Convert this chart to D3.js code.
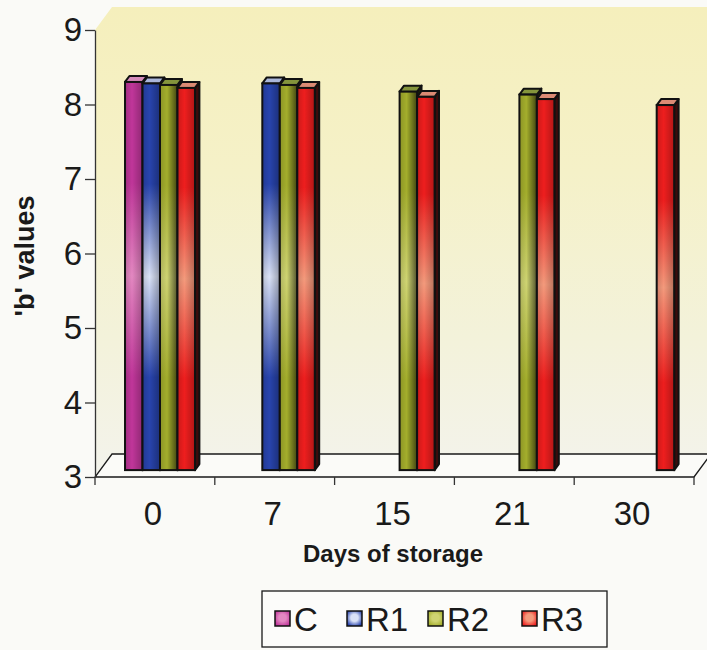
<!DOCTYPE html>
<html>
<head>
<meta charset="utf-8">
<script src="https://cdn.jsdelivr.net/npm/d3@7"></script>
<style>
  html, body { margin: 0; padding: 0; background: #fafaf7; }
  svg { display: block; }
  text { font-family: "Liberation Sans", Arial, sans-serif; fill: #1a1a1a; }
</style>
</head>
<body>
<svg id="chart" width="707" height="650"></svg>
<script>
// Days of storage on the category axis
const categories = ["0", "7", "15", "21", "30"];
const seriesNames = ["C", "R1", "R2", "R3"];

// 'b' values per treatment (null = not measured on that day)
const valuesC  = [8.21, null, null, null, null];
const valuesR1 = [8.19, 8.19, null, null, null];
const valuesR2 = [8.17, 8.17, 8.08, 8.04, null];
const valuesR3 = [8.13, 8.13, 8.01, 7.98, 7.90];

const yTicks = [3, 4, 5, 6, 7, 8, 9];

const seriesValues = [valuesC, valuesR1, valuesR2, valuesR3];

// colour sets: base, highlight, top face, side face, right-edge shading strength
const palette = {
  C:  { base: "#c0369a", light: "#e488c2", top: "#d68cbb", side: "#2e0c24", shade: 0.25 },
  R1: { base: "#2844ae", light: "#dae2f6", top: "#aab6da", side: "#0e1638", shade: 0.3 },
  R2: { base: "#a4ae2c", light: "#cfd472", top: "#84943c", side: "#1c2406", shade: 0.6 },
  R3: { base: "#ee1e1e", light: "#f49a7c", top: "#dc8a74", side: "#3a0c0c", shade: 0.25 }
};

const svg = d3.select("#chart");
const defs = svg.append("defs");

// 3D projection of the floor depth
const DEPTH_X = 17, DEPTH_Y = 23;
const BAR_FRONT = 0.30, BAR_BACK = 0.56;

const x = d3.scaleBand().domain(categories).range([95, 694]).padding(0);
const xSub = d3.scaleBand().domain(seriesNames)
  .range([x.bandwidth() * 0.208, x.bandwidth() * 0.792]).padding(0);
const y = d3.scaleLinear().domain([3, 9]).range([477, 30]);

// wall gradient
const wallGrad = defs.append("linearGradient").attr("id", "wallGrad")
  .attr("gradientUnits", "userSpaceOnUse")
  .attr("x1", 0).attr("y1", 7).attr("x2", 0).attr("y2", 477);
[[0, "#f5efbc"], [0.35, "#f5f1c8"], [0.7, "#f3f2da"], [1, "#f3f3ec"]]
  .forEach(([o, c]) => wallGrad.append("stop").attr("offset", o).attr("stop-color", c));

// per-series gradients
seriesNames.forEach(s => {
  const p = palette[s];
  const v = defs.append("linearGradient").attr("id", "v-" + s)
    .attr("x1", 0).attr("y1", 0).attr("x2", 0).attr("y2", 1);
  [[0, p.base], [0.26, p.base], [0.5, p.light], [0.76, p.base], [1, p.base]]
    .forEach(([o, c]) => v.append("stop").attr("offset", o).attr("stop-color", c));
  const h = defs.append("linearGradient").attr("id", "h-" + s)
    .attr("x1", 0).attr("y1", 0).attr("x2", 1).attr("y2", 0);
  [[0, 0.15], [0.4, 0], [1, p.shade]]
    .forEach(([o, a]) => h.append("stop").attr("offset", o)
      .attr("stop-color", "#000").attr("stop-opacity", a));
  const r = defs.append("radialGradient").attr("id", "r-" + s)
    .attr("cx", 0.5).attr("cy", 0.45).attr("r", 0.6);
  [[0, p.light], [0.4, p.light], [1, p.base]]
    .forEach(([o, c]) => r.append("stop").attr("offset", o).attr("stop-color", c));
});

// walls (side + back) sharing one fill
const y0 = y(3), yMax = y(9);
svg.append("path")
  .attr("d", `M95,${yMax} L${95 + DEPTH_X},${yMax - DEPTH_Y} L707,${yMax - DEPTH_Y}
              L707,${y0 - DEPTH_Y} L${95 + DEPTH_X},${y0 - DEPTH_Y} L95,${y0} Z`)
  .attr("fill", "url(#wallGrad)");

// floor
svg.append("path")
  .attr("d", `M95,${y0} L694,${y0} L${694 + DEPTH_X},${y0 - DEPTH_Y}
              L${95 + DEPTH_X},${y0 - DEPTH_Y} Z`)
  .attr("fill", "#fbfbf8").attr("stroke", "#1a1a1a").attr("stroke-width", 1.3);

// bars
const fx = BAR_FRONT * DEPTH_X, fy = BAR_FRONT * DEPTH_Y;
const dx = (BAR_BACK - BAR_FRONT) * DEPTH_X, dy = (BAR_BACK - BAR_FRONT) * DEPTH_Y;
const barsG = svg.append("g");

categories.forEach((cat, ci) => {
  seriesNames.forEach((s, si) => {
    const v = seriesValues[si][ci];
    if (v == null) return;
    const p = palette[s];
    const x0 = x(cat) + xSub(s) + fx;
    const x1 = x0 + xSub.bandwidth();
    const yt = y(v) - fy;
    const yb = y(3) - fy;
    const g = barsG.append("g");
    // side face
    g.append("path")
      .attr("d", `M${x1},${yt} L${x1 + dx},${yt - dy} L${x1 + dx},${yb - dy} L${x1},${yb} Z`)
      .attr("fill", p.side).attr("stroke", "#111").attr("stroke-width", 2)
      .attr("stroke-linejoin", "round");
    // top face
    g.append("path")
      .attr("d", `M${x0},${yt} L${x1},${yt} L${x1 + dx},${yt - dy} L${x0 + dx},${yt - dy} Z`)
      .attr("fill", p.top).attr("stroke", "#111").attr("stroke-width", 2)
      .attr("stroke-linejoin", "round");
    // front face
    g.append("rect")
      .attr("x", x0).attr("y", yt).attr("width", x1 - x0).attr("height", yb - yt)
      .attr("fill", `url(#v-${s})`);
    g.append("rect")
      .attr("x", x0).attr("y", yt).attr("width", x1 - x0).attr("height", yb - yt)
      .attr("fill", `url(#h-${s})`)
      .attr("stroke", "#111").attr("stroke-width", 2);
  });
});

// y axis
const yAxis = svg.append("g")
  .attr("transform", "translate(95,0)")
  .call(d3.axisLeft(y).tickValues(yTicks).tickFormat(d3.format("d"))
    .tickSize(10).tickSizeOuter(0).tickPadding(3));
yAxis.select(".domain").attr("stroke", "#333").attr("stroke-width", 1.3);
yAxis.selectAll(".tick line").attr("stroke", "#333").attr("stroke-width", 1.3);
yAxis.selectAll(".tick text")
  .attr("font-size", 33).attr("font-family", "Liberation Sans, Arial, sans-serif")
  .attr("fill", "#1a1a1a");

// x axis: ticks at band boundaries, labels at band centres
const xAxis = svg.append("g");
const bounds = categories.map(c => x(c)).concat([x(categories[categories.length - 1]) + x.bandwidth()]);
xAxis.selectAll("line.tick").data(bounds).join("line")
  .attr("class", "tick")
  .attr("x1", d => d).attr("x2", d => d)
  .attr("y1", y0).attr("y2", y0 + 8)
  .attr("stroke", "#333").attr("stroke-width", 1.3);
xAxis.selectAll("text").data(categories).join("text")
  .attr("x", d => x(d) + x.bandwidth() / 2 - 2)
  .attr("y", 525)
  .attr("text-anchor", "middle")
  .attr("font-size", 33)
  .text(d => d);

// axis titles
svg.append("text")
  .attr("x", 393).attr("y", 562)
  .attr("text-anchor", "middle")
  .attr("font-size", 24).attr("font-weight", "bold")
  .text("Days of storage");

svg.append("text")
  .attr("transform", "translate(34,256) rotate(-90)")
  .attr("text-anchor", "middle")
  .attr("font-size", 27).attr("font-weight", "bold")
  .text("'b' values");

// legend
const legend = svg.append("g");
legend.append("rect")
  .attr("x", 262).attr("y", 591).attr("width", 345).attr("height", 56)
  .attr("fill", "#fcfcfa").attr("stroke", "#1a1a1a").attr("stroke-width", 1.3);
const legendX = [275, 347, 428, 522];
seriesNames.forEach((s, i) => {
  legend.append("rect")
    .attr("x", legendX[i]).attr("y", 611).attr("width", 15).attr("height", 15)
    .attr("fill", `url(#r-${s})`).attr("stroke", "#111").attr("stroke-width", 1.5);
  legend.append("text")
    .attr("x", legendX[i] + 19).attr("y", 631)
    .attr("font-size", 33)
    .text(s);
});
</script>
</body>
</html>
